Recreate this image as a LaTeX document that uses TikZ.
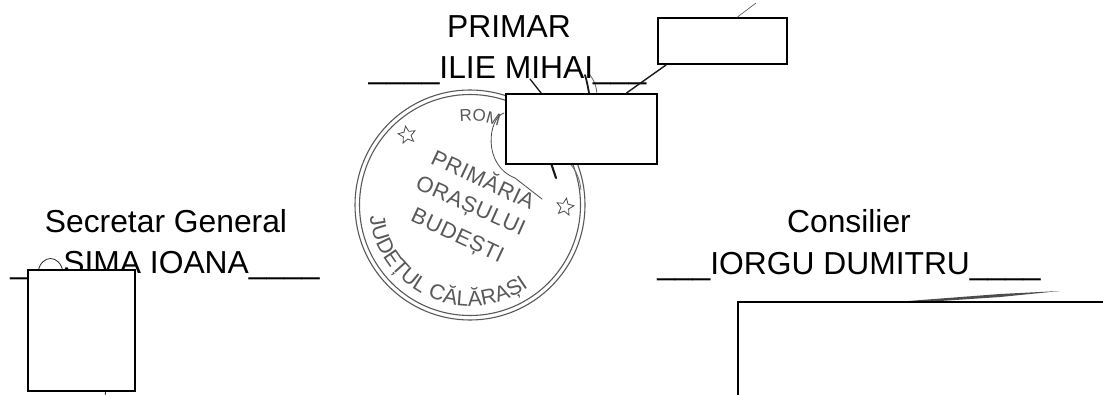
\documentclass[tikz,border=0pt]{standalone}
\usepackage{fontspec}
\setmainfont{Liberation Sans}
\newfontfamily\stampfont[LetterSpace=3]{Liberation Sans}
\newfontfamily\romfont[LetterSpace=22]{Liberation Sans}
\usetikzlibrary{shapes.geometric,decorations.text}
\tikzset{
  sig/.style={font=\fontsize{31.8}{36}\selectfont,anchor=base,inner sep=0pt,text=black},
  stamptext/.style={font=\stampfont\fontsize{22}{24}\selectfont,inner sep=0pt,text=black!65},
  hidebox/.style={draw=black,fill=white,line width=2pt,inner sep=0pt},
  stampring/.style={draw=black!65,line width=1.1pt},
  stampstar/.style={star,star points=5,star point ratio=2.2,draw=black!70,line width=0.8pt,minimum size=18pt,inner sep=0pt},
  pen/.style={draw=black!85,line width=0.8pt,line cap=round},
  heavypen/.style={draw=black!90,line width=1.8pt,line cap=round},
}
\begin{document}
\begin{tikzpicture}[x=1pt,y=-1pt]
\useasboundingbox (0,0) rectangle (1103,394);
\clip (0,0) rectangle (1103,394);
\fill[white] (0,0) rectangle (1103,394);

% stamp
\coordinate (stampc) at (470,205);
\draw[stampring] (stampc) circle (115pt);
\draw[stampring] (stampc) circle (110.5pt);
\node[stampstar,rotate=10] (starl) at (407,135) {};
\node[stampstar,rotate=-10] (starr) at (565,207) {};
\node[stamptext,rotate=-25] (t1) at (484,178) {PRIMĂRIA};
\node[stamptext,rotate=-24] (t2) at (470,207) {ORAȘULUI};
\node[stamptext,rotate=-25] (t3) at (457,237) {BUDEȘTI};
\begin{scope}[shift={(470,205)},x=1pt,y=1pt]
  \path[decorate,decoration={text along path,text align=center,
    text={|\stampfont\fontsize{21.5}{24}\selectfont\color{black!65}|JUDEȚUL CĂLĂRAȘI}}]
    (178:101) arc (178:314:101);
  \path[decorate,decoration={text along path,text align=left,
    text={|\romfont\fontsize{17}{20}\selectfont\color{black!65}|ROM}}]
    (97:84) arc (97:50:84);
\end{scope}

% signature strokes under the boxes
\coordinate (s1a) at (530,79);
\coordinate (s1b) at (545,98);
\draw[heavypen,line width=1.3pt] (s1a) -- (s1b);
\coordinate (s2a) at (585,75);
\coordinate (s2b) at (590,98);
\draw[heavypen] (s2a) .. controls (587,82) .. (s2b);
\draw[pen,black!60] (589,74) .. controls (596,82) and (597,90) .. (597,98);
\coordinate (s3a) at (504,113);
\coordinate (s3b) at (542,199);
\draw[pen,black!70] (s3a) .. controls (488,118) and (482,165) .. (515,178) -- (s3b);
\coordinate (s4a) at (550,160);
\coordinate (s4b) at (556,178);
\draw[heavypen,line width=2.2pt] (s4a) -- (s4b);
\draw[pen,black!55] (571,165) .. controls (577,172) and (580,180) .. (581,190);
\coordinate (s5) at (756,3);
\coordinate (s6) at (38,272);
\coordinate (s7) at (63,272);
\coordinate (s8) at (105,398);
\coordinate (s9a) at (908,301);
\coordinate (s9b) at (1060,291);
\fill[black!70] (s9a) -- (1000,294) -- (s9b) -- (1000,297) -- (940,301) -- cycle;
\draw[pen] (s6) .. controls (41,254) and (60,254) .. (s7);

% texts
\node[sig] (primar) at (509,37) {PRIMAR};
\node[sig] (ilie) at (507.5,78) {\_\_\_\_ILIE MIHAI\_\_\_};
\node[sig] (secretar) at (166,232) {Secretar General};
\node[sig] (sima) at (165,273.5) {\_\_\_SIMA IOANA\_\_\_\_};
\node[sig] (consilier) at (849,232) {Consilier};
\node[sig] (iorgu) at (849,274) {\_\_\_IORGU DUMITRU\_\_\_\_};

% connectors from the hiding boxes
\node[hidebox,minimum width=129pt,minimum height=46pt] (boxa) at (722.5,41) {};
\node[hidebox,minimum width=151pt,minimum height=70pt] (boxb) at (581.5,129) {};
\node[hidebox,minimum width=107pt,minimum height=121pt] (boxc) at (81.5,330.5) {};
\node[hidebox,minimum width=400pt,minimum height=160pt] (boxd) at (938,382) {};
\draw[pen,line width=0.6pt,black!70] ([xshift=15pt]boxa.north) -- (s5);
\draw[heavypen,line width=1.4pt] (boxa.south west) ++(9pt,0) -- ([xshift=45pt]boxb.north);
\draw[pen] (boxc.south) ++(24pt,0) -- (s8);
\end{tikzpicture}
\end{document}
